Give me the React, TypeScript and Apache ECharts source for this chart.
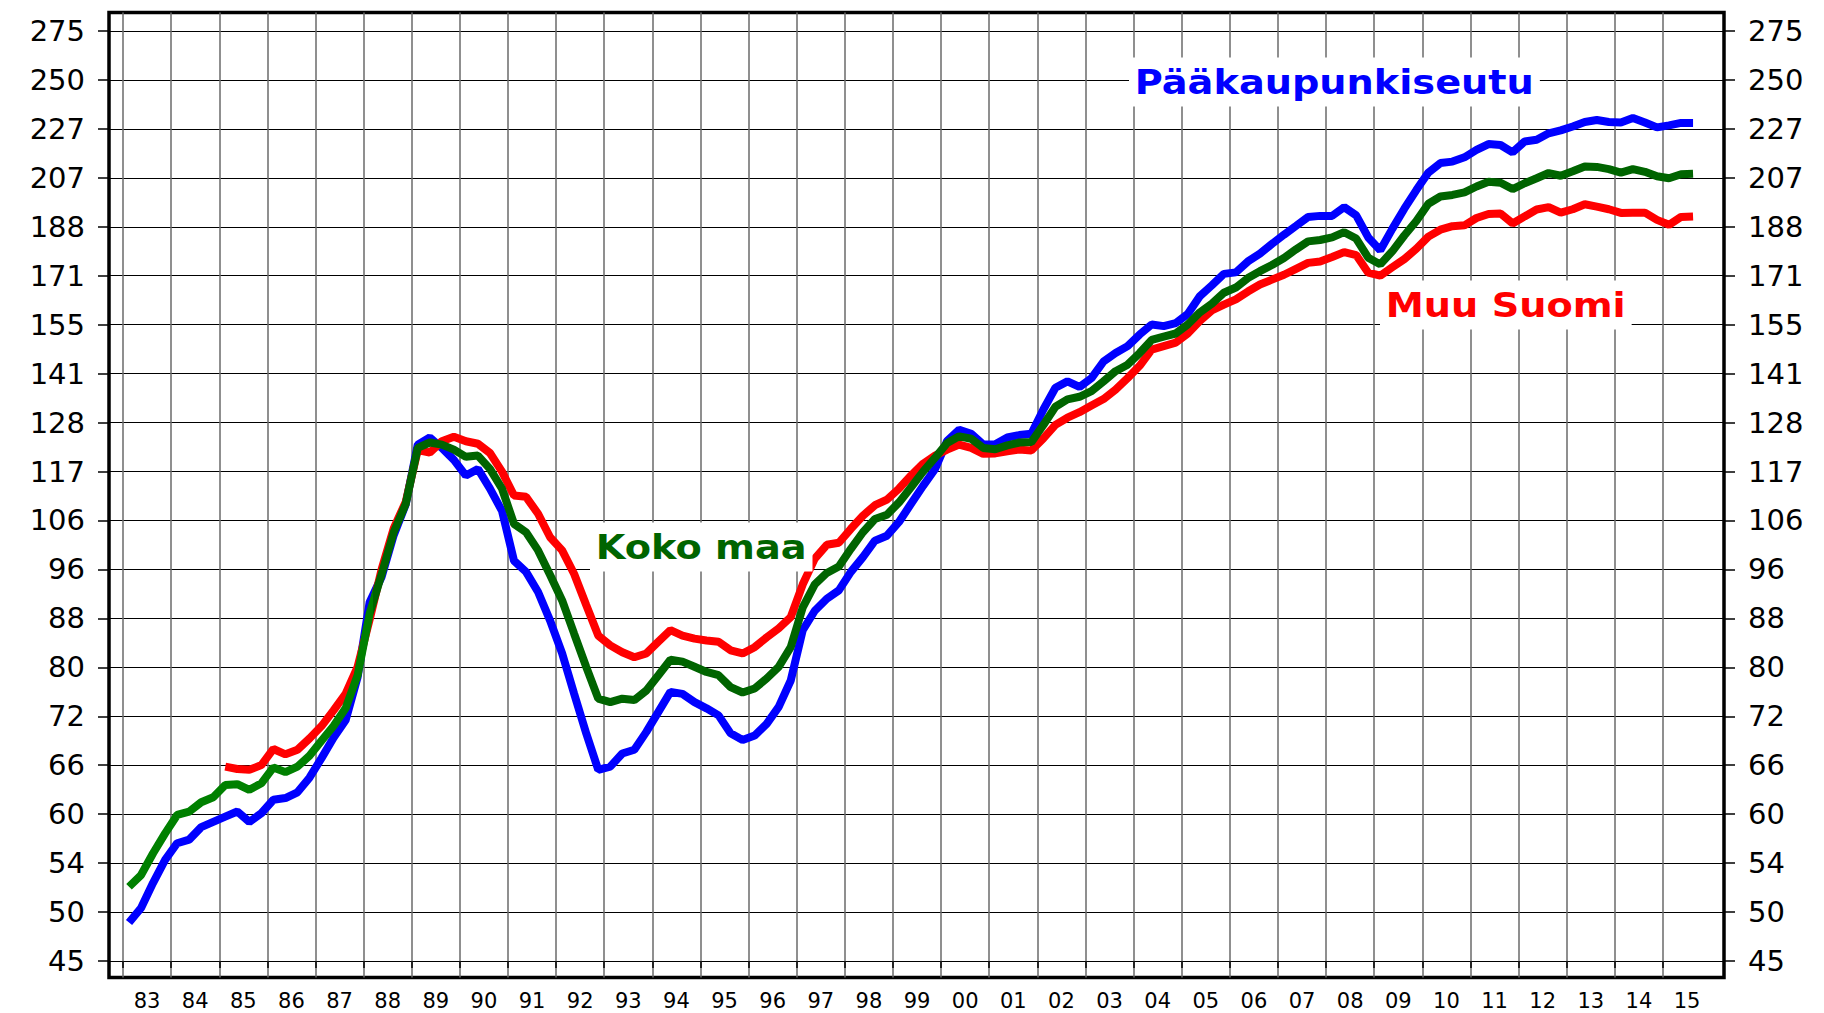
import React, { useEffect, useRef } from "react";
import * as echarts from "echarts";

// ---- data ----
const yTickLabels = ["45", "50", "54", "60", "66", "72", "80", "88", "96", "106", "117", "128", "141", "155", "171", "188", "207", "227", "250", "275"];
const yearLabels = ["83", "84", "85", "86", "87", "88", "89", "90", "91", "92", "93", "94", "95", "96", "97", "98", "99", "00", "01", "02", "03", "04", "05", "06", "07", "08", "09", "10", "11", "12", "13", "14", "15"];
const firstYear = 1983;

const paakaupunkiseutuStart = 1983;
const paakaupunkiseutu = [
  48.5, 49.9, 52.4, 54.8,
  56.6, 57.0, 58.4, 59.0,
  59.6, 60.2, 59.0, 60.0,
  61.6, 61.8, 62.5, 64.3,
  66.8, 69.5, 71.9, 78.2,
  90.5, 95.1, 103.1, 109.5,
  123.0, 124.7, 122.2, 119.4,
  115.8, 117.3, 112.9, 108.1,
  98.1, 96.0, 92.3, 87.3,
  81.9, 75.7, 70.1, 65.3,
  65.7, 67.4, 67.9, 70.3,
  73.1, 76.0, 75.7, 74.5,
  73.6, 72.6, 70.1, 69.2,
  69.8, 71.4, 73.8, 77.7,
  85.7, 89.0, 91.1, 92.6,
  96.0, 98.8, 102.0, 103.0,
  105.8, 109.6, 113.5, 117.3,
  123.9, 126.6, 125.6, 123.0,
  123.1, 124.7, 125.3, 125.6,
  131.7, 137.4, 139.1, 137.6,
  140.0, 144.6, 147.0, 149.0,
  152.4, 155.4, 154.9, 155.8,
  158.6, 164.2, 167.7, 171.5,
  172.0, 175.7, 178.4, 181.8,
  185.1, 188.3, 191.6, 192.0,
  192.0, 195.3, 192.2, 184.1,
  179.6, 187.2, 194.7, 201.9,
  208.9, 212.8, 213.4, 215.2,
  218.3, 220.8, 220.4, 217.3,
  221.9, 222.7, 225.5, 226.8,
  228.5, 230.5, 231.4, 230.5,
  230.3, 232.3, 230.3, 228.1,
  229.0, 230.1, 230.1,
];

const kokoMaaStart = 1983;
const kokoMaa = [
  52.0, 53.2, 55.5, 57.7,
  59.8, 60.2, 61.3, 61.9,
  63.4, 63.5, 62.8, 63.6,
  65.6, 65.0, 65.7, 67.1,
  69.1, 71.1, 73.6, 78.5,
  88.5, 95.6, 103.7, 109.6,
  122.2, 123.5, 123.0, 121.8,
  120.1, 120.4, 117.3, 112.9,
  105.4, 103.7, 100.1, 95.4,
  90.8, 85.1, 79.8, 75.0,
  74.5, 75.0, 74.8, 76.2,
  78.5, 80.9, 80.6, 79.8,
  79.0, 78.5, 76.7, 75.9,
  76.5, 78.0, 79.8, 82.9,
  89.6, 93.7, 95.8, 97.0,
  100.4, 103.7, 106.4, 107.3,
  109.9, 113.2, 116.7, 119.9,
  123.4, 125.0, 124.4, 122.2,
  121.9, 122.8, 123.5, 123.6,
  127.8, 132.4, 134.3, 135.0,
  136.5, 139.1, 141.9, 143.7,
  147.0, 150.8, 151.8, 152.7,
  155.4, 159.1, 161.8, 165.3,
  167.0, 170.1, 172.4, 174.5,
  176.9, 179.9, 182.7, 183.2,
  184.1, 186.0, 183.7, 177.0,
  174.7, 179.2, 184.8, 190.1,
  196.6, 199.4, 200.0, 201.0,
  203.3, 205.2, 204.8, 202.3,
  204.6, 206.6, 208.7, 207.6,
  209.4, 211.4, 211.2, 210.3,
  208.9, 210.3, 209.2, 207.4,
  206.6, 208.2, 208.4,
];

const muuSuomiStart = 1985;
const muuSuomi = [
  65.7, 65.4, 65.3, 65.9,
  68.0, 67.3, 67.9, 69.4,
  71.1, 73.3, 75.7, 79.8,
  87.5, 96.5, 104.5, 110.0,
  121.7, 121.1, 123.8, 124.9,
  123.8, 123.2, 121.0, 116.7,
  111.4, 111.1, 107.5, 102.7,
  100.1, 95.6, 90.0, 84.8,
  83.2, 82.1, 81.3, 81.9,
  83.8, 85.7, 84.8, 84.3,
  84.0, 83.8, 82.4, 81.9,
  82.9, 84.5, 86.0, 87.9,
  93.7, 98.5, 101.2, 101.6,
  104.4, 107.1, 109.3, 110.5,
  112.9, 115.8, 118.5, 120.4,
  121.8, 123.0, 122.2, 120.8,
  120.9, 121.4, 121.8, 121.6,
  124.5, 127.8, 129.6, 131.0,
  132.7, 134.4, 136.9, 140.0,
  143.4, 148.0, 149.0, 150.0,
  152.7, 156.5, 159.7, 161.5,
  163.2, 165.7, 168.0, 169.6,
  171.2, 173.2, 175.2, 175.7,
  177.2, 178.9, 177.9, 171.9,
  170.9, 173.7, 176.5, 180.1,
  184.4, 186.9, 188.2, 188.5,
  191.2, 192.7, 192.9, 189.2,
  191.8, 194.4, 195.3, 193.2,
  194.5, 196.4, 195.5, 194.5,
  193.1, 193.2, 193.2, 190.5,
  188.7, 191.6, 191.8,
];

// ---- scale helpers (geometric y scale: each grid step is x1.1 from 45) ----
const BASE = 45;
const RATIO = 1.1;
const toLevel = (v: number) => Math.log(v / BASE) / Math.log(RATIO);
const toPoints = (start: number, vals: number[]) =>
  vals.map((v, i) => [start + (i + 0.5) / 4, toLevel(v)]);

const levels = yTickLabels.map((_, i) => i);
const yearTicks = yearLabels.map((_, i) => firstYear + i);
const yearMids = yearLabels.map((_, i) => firstYear + i + 0.5);

const FONT = "DejaVu Sans";

export default function App() {
  const ref = useRef<HTMLDivElement>(null);
  useEffect(() => {
    if (!ref.current) return;
    const chart = echarts.init(ref.current, undefined, { renderer: "svg" });
    const yAxisBase = {
      type: "value" as const,
      min: -0.337,
      max: 19.377,
      axisLine: { show: false },
      axisTick: { show: true, length: 11, lineStyle: { color: "#000", width: 1.5 }, customValues: levels },
      axisLabel: {
        customValues: levels,
        formatter: (v: number) => yTickLabels[Math.round(v)] ?? "",
        fontSize: 29,
        fontFamily: FONT,
        color: "#000",
        margin: 24,
      },
    };
    const labelText = (text: string, x: number, y: number, fill: string) => ({
      type: "text",
      z: 100,
      x,
      y,
      scaleX: 1.16,
      style: {
        text,
        fill,
        font: `bold 33px "${FONT}"`,
        verticalAlign: "middle",
        backgroundColor: "#fff",
        padding: [8, 5],
      },
    });
    chart.setOption({
      animation: false,
      backgroundColor: "#fff",
      grid: {
        left: 109,
        right: 100,
        top: 12.5,
        bottom: 35.5,
        show: true,
        borderColor: "#000",
        borderWidth: 3.5,
        backgroundColor: "transparent",
      },
      xAxis: {
        type: "value",
        min: 1982.709,
        max: 2016.268,
        axisLine: { show: false },
        axisTick: { show: true, length: 7, lineStyle: { color: "#000", width: 1.5 }, customValues: yearTicks },
        axisLabel: {
          customValues: yearMids,
          formatter: (v: number) => yearLabels[Math.floor(v) - firstYear] ?? "",
          fontSize: 21,
          fontFamily: FONT,
          color: "#000",
          margin: 13,
        },
        splitLine: { show: true, lineStyle: { color: "#6a6a6a", width: 1.5 } },
      },
      yAxis: [
        { ...yAxisBase, position: "left", splitLine: { show: true, lineStyle: { color: "#000", width: 1 } } },
        { ...yAxisBase, position: "right", splitLine: { show: false } },
      ],
      visualMap: [
        {
          type: "piecewise",
          show: false,
          dimension: 0,
          seriesIndex: 2,
          pieces: [
            { lt: 1988.2, color: "#008000" },
            { gte: 1988.2, lte: 2030, color: "#006400" },
            { gt: 2030, color: "#006400" },
          ],
        },
      ],
      series: [
        {
          name: "Pääkaupunkiseutu",
          type: "line",
          data: toPoints(paakaupunkiseutuStart, paakaupunkiseutu),
          showSymbol: false,
          lineStyle: { color: "#0000ff", width: 8 },
          itemStyle: { color: "#0000ff" },
        },
        {
          name: "Muu Suomi",
          type: "line",
          data: toPoints(muuSuomiStart, muuSuomi),
          showSymbol: false,
          lineStyle: { color: "#ff0000", width: 8 },
          itemStyle: { color: "#ff0000" },
        },
        {
          name: "Koko maa",
          type: "line",
          data: toPoints(kokoMaaStart, kokoMaa),
          showSymbol: false,
          lineStyle: { width: 8 },
        },
      ],
      graphic: [
        labelText("Pääkaupunkiseutu", 1129, 82, "#0000ff"),
        labelText("Koko maa", 590, 547, "#006400"),
        labelText("Muu Suomi", 1380, 305, "#ff0000"),
      ],
    });
    return () => chart.dispose();
  }, []);
  return (
    <div
      ref={ref}
      style={{ position: "fixed", left: 0, top: 0, width: 1824, height: 1013, background: "#fff" }}
    />
  );
}
